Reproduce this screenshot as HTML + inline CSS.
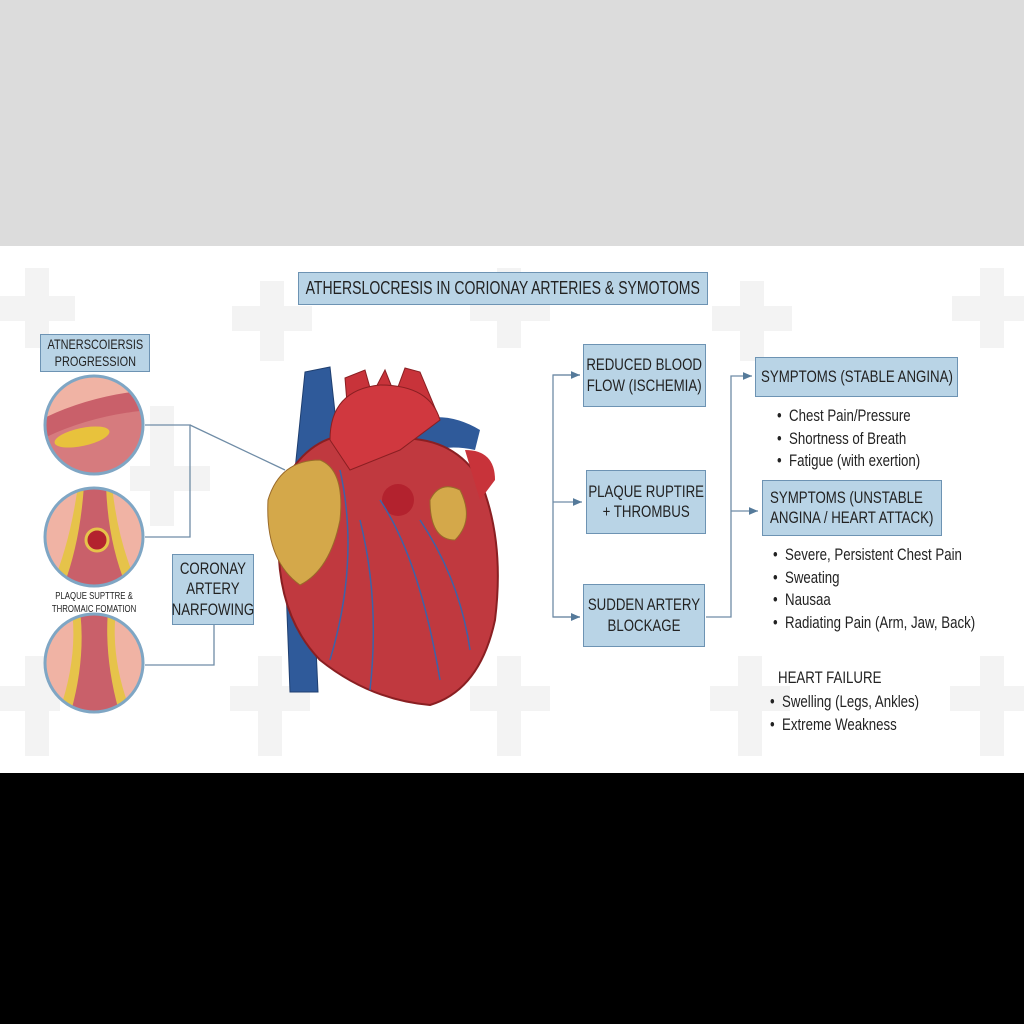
<!DOCTYPE html>
<html><head><meta charset="utf-8"><style>
body{margin:0;width:1024px;height:1024px;position:relative;background:#fff;font-family:"Liberation Sans",sans-serif;color:#222;overflow:hidden}
.top{position:absolute;left:0;top:0;width:1024px;height:246px;background:#dcdcdc}
.bot{position:absolute;left:0;top:773px;width:1024px;height:251px;background:#000}
.box{position:absolute;background:#b9d4e6;border:1.5px solid #6d93b3;box-sizing:border-box;display:flex;align-items:center;justify-content:center;text-align:center;color:#222}
.n{display:inline-block;white-space:nowrap;transform:scaleX(.78);line-height:1.2}
.t{position:absolute;font-size:17px;line-height:22.5px;white-space:nowrap;transform:scaleX(.78);transform-origin:0 0}
</style></head><body>
<div class="top"></div>
<svg style="position:absolute;left:0;top:246px" width="1024" height="527">
<g fill="#f3f3f3">
<rect x="0" y="50" width="75" height="25"/><rect x="25" y="22" width="24" height="80"/>
<rect x="232" y="60" width="80" height="25"/><rect x="260" y="35" width="24" height="80"/>
<rect x="470" y="50" width="80" height="25"/><rect x="497" y="22" width="24" height="80"/>
<rect x="712" y="60" width="80" height="25"/><rect x="740" y="35" width="24" height="80"/>
<rect x="952" y="50" width="72" height="25"/><rect x="980" y="22" width="24" height="80"/>
<rect x="130" y="220" width="80" height="25"/><rect x="150" y="160" width="24" height="120"/>
<rect x="0" y="440" width="60" height="25"/><rect x="25" y="410" width="24" height="100"/>
<rect x="230" y="440" width="80" height="25"/><rect x="258" y="410" width="24" height="100"/>
<rect x="470" y="440" width="80" height="25"/><rect x="497" y="410" width="24" height="100"/>
<rect x="710" y="440" width="80" height="25"/><rect x="738" y="410" width="24" height="100"/>
<rect x="950" y="440" width="74" height="25"/><rect x="980" y="410" width="24" height="100"/>
</g></svg>

<svg style="position:absolute;left:0;top:0" width="1024" height="773">
<defs>
<marker id="a" markerWidth="8" markerHeight="8" refX="7" refY="4" orient="auto"><path d="M0,1 L7,4 L0,7z" fill="#557a9a"/></marker>
<clipPath id="c1"><circle cx="94" cy="425" r="48"/></clipPath>
<clipPath id="c2"><circle cx="94" cy="537" r="48"/></clipPath>
<clipPath id="c3"><circle cx="94" cy="663" r="48"/></clipPath>
</defs>
<g stroke="#6f8ca6" stroke-width="1.3" fill="none">
<path d="M145,425 H190 V537 H145"/><path d="M190,425 L285,470"/>
<path d="M145,665 H214 V625"/>
<path d="M580,375 H553 V617 H580" marker-end="url(#a)"/>
<path d="M553,375 H580" marker-end="url(#a)"/><path d="M553,502 H582" marker-end="url(#a)"/><path d="M553,617 H580" marker-end="url(#a)"/>
<path d="M706,617 H731 V376 H752" marker-end="url(#a)"/><path d="M731,511 H758" marker-end="url(#a)"/>
</g>
<g clip-path="url(#c1)"><rect x="40" y="370" width="110" height="110" fill="#f0b3a4"/><path d="M40,420 Q90,395 150,390 L150,480 L40,480z" fill="#c9606a"/><path d="M40,440 Q90,415 150,410 L150,480 L40,480z" fill="#d67b7e"/><ellipse cx="82" cy="437" rx="28" ry="9" fill="#e8c23c" transform="rotate(-12 82 437)"/></g>
<circle cx="94" cy="425" r="49" fill="none" stroke="#7fa6c4" stroke-width="3"/>
<g clip-path="url(#c2)"><rect x="40" y="485" width="110" height="110" fill="#f0b3a4"/><path d="M78,485 Q70,545 50,590 H140 Q118,545 112,485z" fill="#e6c34a"/><path d="M84,485 Q80,545 62,590 H128 Q108,545 106,485z" fill="#c9606a"/><circle cx="97" cy="540" r="11" fill="#b3222e" stroke="#e6c34a" stroke-width="3"/></g>
<circle cx="94" cy="537" r="49" fill="none" stroke="#7fa6c4" stroke-width="3"/>
<g clip-path="url(#c3)"><rect x="40" y="610" width="110" height="110" fill="#f0b3a4"/><path d="M72,610 Q78,660 58,715 H132 Q110,660 116,610z" fill="#e6c34a"/><path d="M80,610 Q86,660 70,715 H120 Q104,660 108,610z" fill="#c9606a"/></g>
<circle cx="94" cy="663" r="49" fill="none" stroke="#7fa6c4" stroke-width="3"/>
<path d="M305,372 L330,367 L338,440 L295,470z M285,560 L312,560 L318,692 L290,692z" fill="#2f5a9a" stroke="#1f3f70"/>
<path d="M345,378 L365,370 L372,395 L385,370 L395,395 L405,368 L420,372 L440,420 L350,440z" fill="#c8333a" stroke="#8a1f22"/>
<path d="M380,440 Q430,400 480,430 L475,450 Q430,440 400,470z" fill="#2f5a9a"/>
<path d="M285,480 Q320,420 380,440 Q450,430 480,480 Q505,540 495,620 Q480,690 430,705 Q370,700 320,660 Q262,600 285,480z" fill="#c0393f" stroke="#8a1f22" stroke-width="2"/>
<path d="M330,440 Q330,390 380,385 Q430,385 440,420 L400,450 L350,470z" fill="#d0383f" stroke="#8a1f22"/>
<path d="M268,500 Q280,460 320,460 Q345,470 340,520 Q330,570 300,585 Q265,560 268,500z" fill="#d4a84a" stroke="#9a6a2a"/>
<path d="M430,500 Q440,480 460,490 Q475,520 455,540 Q430,540 430,500z" fill="#d4a84a" stroke="#9a6a2a"/>
<circle cx="398" cy="500" r="16" fill="#b3222e"/>
<path d="M465,450 Q495,450 495,480 L480,500z" fill="#c8333a"/>
<g stroke="#3d63a8" stroke-width="1.5" fill="none"><path d="M340,470 Q360,560 330,660"/><path d="M380,500 Q420,560 440,680"/><path d="M420,520 Q460,580 470,650"/><path d="M360,520 Q380,600 370,690"/></g>
</svg>

<div class="box" style="left:298px;top:272px;width:410px;height:33px;font-size:18px"><span class="n">ATHERSLOCRESIS IN CORIONAY ARTERIES &amp; SYMOTOMS</span></div>
<div class="box" style="left:40px;top:334px;width:110px;height:38px;font-size:14px"><span class="n">ATNERSCOIERSIS<br>PROGRESSION</span></div>
<div style="position:absolute;left:32px;top:590px;width:125px;text-align:center;font-size:10px"><span class="n" style="line-height:13px">PLAQUE SUPTTRE &amp;<br>THROMAIC FOMATION</span></div>
<div class="box" style="left:172px;top:554px;width:82px;height:71px;font-size:17px"><span class="n">CORONAY<br>ARTERY<br>NARFOWING</span></div>
<div class="box" style="left:583px;top:344px;width:123px;height:63px;font-size:17px"><span class="n">REDUCED BLOOD<br>FLOW (ISCHEMIA)</span></div>
<div class="box" style="left:586px;top:470px;width:120px;height:64px;font-size:17px"><span class="n">PLAQUE RUPTIRE<br>+ THROMBUS</span></div>
<div class="box" style="left:583px;top:584px;width:122px;height:63px;font-size:17px"><span class="n">SUDDEN ARTERY<br>BLOCKAGE</span></div>
<div class="box" style="left:755px;top:357px;width:203px;height:40px;font-size:17px"><span class="n">SYMPTOMS (STABLE ANGINA)</span></div>
<div class="box" style="left:762px;top:480px;width:180px;height:56px;font-size:17px"><span class="n" style="text-align:left">SYMPTOMS (UNSTABLE<br>ANGINA / HEART ATTACK)</span></div>
<div class="t" style="left:777px;top:405px">•&nbsp; Chest Pain/Pressure<br>•&nbsp; Shortness of Breath<br>•&nbsp; Fatigue (with exertion)</div>
<div class="t" style="left:773px;top:544px">•&nbsp; Severe, Persistent Chest Pain<br>•&nbsp; Sweating<br>•&nbsp; Nausaa<br>•&nbsp; Radiating Pain (Arm, Jaw, Back)</div>
<div class="t" style="left:778px;top:667px">HEART FAILURE</div>
<div class="t" style="left:770px;top:691px">•&nbsp; Swelling (Legs, Ankles)<br>•&nbsp; Extreme Weakness</div>
<div class="bot"></div>
</body></html>
